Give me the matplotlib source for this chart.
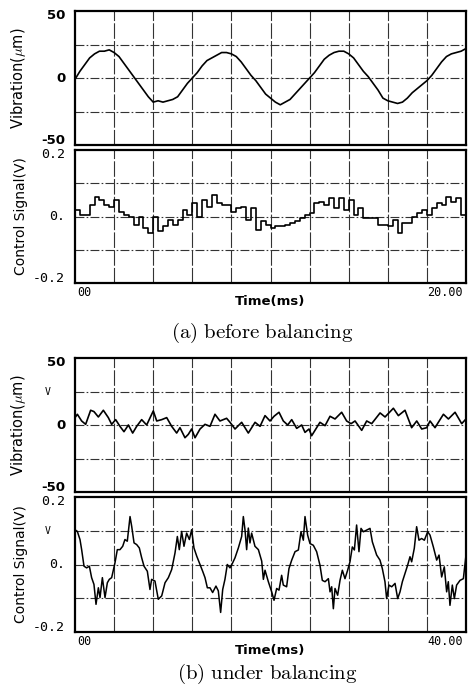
import numpy as np
import matplotlib
matplotlib.use("Agg")
import matplotlib.pyplot as plt

plt.rcParams['mathtext.fontset'] = 'cm'

# ---- (a) before balancing, 0..20 ms, sampled every 0.25 ms ----
t_a = np.arange(81) * 0.25
vib_a = [-1, 5, 10, 15, 18, 20, 20, 21, 19, 16, 11, 6, 1, -4, -9, -14, -18, -17, -18, -17,
         -16, -14, -9, -4, 0, 4, 9, 13, 15, 17, 19, 19, 18, 16, 12, 7, 2, -2, -7, -12,
         -15, -18, -20, -18, -16, -12, -8, -4, 0, 4, 9, 14, 17, 19, 20, 20, 18, 15, 10, 5,
         1, -4, -9, -15, -17, -18, -19, -18, -15, -11, -8, -5, -2, 2, 7, 12, 16, 18, 19, 20, 22]
ctl_a = [0.02, 0.005, 0.005, 0.035, 0.06, 0.05, 0.035, 0.03, 0.05, 0.015, 0.005, 0.0, -0.025,
         0.0, -0.035, -0.05, 0.0, -0.045, -0.03, -0.01, -0.025, -0.01, 0.02, 0.005, 0.04, 0.0,
         0.05, 0.03, 0.065, 0.04, 0.035, 0.035, 0.015, 0.025, 0.03, -0.01, 0.025, -0.04, -0.015,
         -0.025, -0.035, -0.03, -0.03, -0.025, -0.02, -0.015, -0.005, 0.005, 0.01, 0.04, 0.045,
         0.035, 0.055, 0.025, 0.055, 0.02, 0.05, 0.005, 0.025, -0.005, -0.005, -0.005, -0.025,
         -0.025, -0.03, -0.01, -0.05, -0.02, -0.02, 0.0, 0.01, 0.02, 0.005, 0.025, 0.04, 0.035,
         0.06, 0.045, 0.055, 0.005, 0.07]

# ---- (b) under balancing, 0..40 ms ----
t_vib_b = [0, 0.24, 0.68, 1.09, 1.60, 1.94, 2.39, 2.90, 3.41, 3.75, 4.16, 4.60, 5.01, 5.46,
           5.90, 6.31, 6.82, 7.33, 8.01, 8.36, 8.87, 9.38, 9.89, 10.40, 10.74, 11.25, 11.59,
           11.93, 12.28, 12.79, 13.30, 13.81, 14.32, 14.83, 15.51, 15.86, 16.37, 17.05, 17.73,
           18.42, 18.93, 19.44, 19.95, 20.36, 20.87, 21.31, 21.76, 22.17, 22.68, 23.19, 23.53,
           23.94, 24.21, 24.72, 25.06, 25.58, 26.09, 26.60, 27.28, 27.79, 28.24, 28.65, 29.33,
           29.84, 30.35, 31.21, 31.72, 32.57, 33.08, 33.76, 34.44, 34.96, 35.47, 35.98, 36.32,
           36.83, 37.17, 37.69, 38.20, 38.88, 39.56, 40.0]
vib_b = [5.5, 8, 3, 0.5, 11, 10, 6, 11, 5.5, 0.5, 4, -1, -5, 0, -6, -1, 4, 0, 10.5, 3, 4,
         5.5, -1, -6, -2, -9.5, -7, -3, -9.5, -3, 0.5, -1, 8, 3, 5, 2, -3, 2, -6, 2, -1, 7,
         3, 6.5, 9.5, 3, 0, 4, -2.5, 0, -5.5, -3, -8, -2, 2, -0.5, 6.5, 4.5, 9.5, 3, 1, 3,
         -4, 3, 1, 9, 6, 12.5, 7, 11, -2, 3, -3, -2, 3, -2, 2, 8, 4.5, 9.5, 1, 4.5]

t_ctl_b = [0, 0.24, 0.51, 0.68, 0.92, 1.19, 1.47, 1.70, 1.94, 2.15, 2.39, 2.56, 2.80, 3.07,
           3.31, 3.51, 3.75, 4.09, 4.33, 4.60, 4.88, 5.11, 5.35, 5.63, 5.80, 6.04, 6.31, 6.58,
           6.82, 7.06, 7.40, 7.67, 7.84, 8.18, 8.52, 8.87, 9.21, 9.55, 9.89, 10.23, 10.47,
           10.67, 10.91, 11.15, 11.42, 11.70, 11.93, 12.17, 12.45, 12.79, 13.06, 13.30, 13.54,
           13.81, 14.08, 14.42, 14.66, 14.90, 15.11, 15.34, 15.58, 15.86, 16.13, 16.37, 16.71,
           17.05, 17.22, 17.39, 17.56, 17.73, 17.90, 18.07, 18.41, 18.76, 19.10, 19.27, 19.44,
           19.78, 20.12, 20.36, 20.63, 20.87, 21.14, 21.31, 21.65, 21.89, 22.17, 22.51, 22.85,
           23.12, 23.36, 23.53, 23.80, 24.04, 24.38, 24.72, 25.06, 25.30, 25.58, 25.92, 26.09,
           26.26, 26.43, 26.60, 26.87, 27.11, 27.35, 27.62, 27.89, 28.13, 28.37, 28.58, 28.81,
           29.05, 29.26, 29.50, 29.84, 30.18, 30.42, 30.86, 31.20, 31.44, 31.71, 31.88, 32.12,
           32.40, 32.74, 33.01, 33.25, 33.49, 33.76, 34.03, 34.27, 34.44, 34.71, 34.95, 35.19,
           35.46, 35.74, 36.08, 36.32, 36.66, 37.00, 37.24, 37.51, 37.78, 38.02, 38.19, 38.36,
           38.60, 38.81, 39.04, 39.39, 39.73, 40.0]
ctl_b = [0.103, 0.098, 0.074, 0.044, -0.005, -0.01, -0.005, -0.039, -0.059, -0.118, -0.069,
         -0.098, -0.039, -0.098, -0.054, -0.044, -0.039, 0.005, 0.044, 0.044, 0.054, 0.074,
         0.069, 0.142, 0.113, 0.064, 0.059, 0.049, 0.020, -0.005, -0.020, -0.074, -0.044,
         -0.049, -0.103, -0.093, -0.054, -0.039, -0.015, 0.034, 0.083, 0.044, 0.098, 0.054,
         0.093, 0.074, 0.103, 0.049, 0.025, 0.0, -0.020, -0.039, -0.069, -0.069, -0.083,
         -0.064, -0.078, -0.142, -0.074, -0.044, 0.0, -0.010, 0.005, 0.020, 0.049, 0.083,
         0.142, 0.103, 0.044, 0.108, 0.064, 0.093, 0.054, 0.044, 0.010, -0.044, -0.017,
         -0.051, -0.081, -0.106, -0.071, -0.076, -0.032, -0.061, -0.066, -0.012, 0.013, 0.038,
         0.043, 0.097, 0.072, 0.142, 0.087, 0.062, 0.057, 0.038, -0.002, -0.047, -0.051,
         -0.042, -0.081, -0.066, -0.131, -0.071, -0.091, -0.047, -0.017, -0.042, -0.017,
         0.008, 0.052, 0.043, 0.117, 0.038, 0.107, 0.097, 0.102, 0.107, 0.067, 0.028, 0.013,
         -0.012, -0.051, -0.101, -0.061, -0.066, -0.056, -0.101, -0.081, -0.051, -0.027,
         -0.002, 0.023, 0.008, 0.048, 0.112, 0.072, 0.077, 0.072, 0.097, 0.087, 0.052, 0.013,
         0.028, -0.037, -0.007, -0.081, -0.051, -0.121, -0.061, -0.101, -0.061, -0.047,
         -0.042, 0.028]

vib_ticks = ['50', '0', '-50']
ctl_ticks = ['0.2', '0.', '-0.2']


def setup_axes(ax, tmax, ymax):
    ax.set_xlim(0, tmax)
    ax.set_ylim(-ymax, ymax)
    ax.set_xticks(np.linspace(0, tmax, 11)[1:-1])
    ax.set_yticks([-ymax / 2, 0, ymax / 2])
    ax.tick_params(length=0, labelbottom=False, labelleft=False)
    ax.grid(axis='x', color='#333333', lw=0.8, ls=(0, (14, 2)))
    ax.grid(axis='y', color='#333333', lw=0.8, ls=(0, (8, 2, 1.5, 2)))
    for s in ax.spines.values():
        s.set_linewidth(1.6)


def label_y(ax, labels, ymax, mono):
    tr = ax.get_yaxis_transform()
    fam = 'DejaVu Sans Mono' if mono else 'DejaVu Sans'
    for lab, y in zip(labels, [ymax * 0.93, 0, -ymax * 0.93]):
        ax.text(-0.025, y, lab, transform=tr, ha='right', va='center',
                fontsize=9.5, family=fam, fontweight='bold' if not mono else 'normal')


def draw_panel(ax_v, ax_c, t_v, v, t_c, c, tmax, steps, end_label, vmark):
    setup_axes(ax_v, tmax, 50)
    setup_axes(ax_c, tmax, 0.2)
    ax_v.plot(t_v, v, color='black', lw=1.2)
    if steps:
        ax_c.plot(t_c, c, color='black', lw=1.2, drawstyle='steps-post')
    else:
        ax_c.plot(t_c, c, color='black', lw=1.1)
    label_y(ax_v, vib_ticks, 50, False)
    label_y(ax_c, ctl_ticks, 0.2, True)
    ax_v.set_ylabel(r'Vibration($\mu$m)', fontsize=10.5)
    ax_c.set_ylabel('Control Signal(V)', fontsize=10)
    ax_v.yaxis.set_label_coords(-0.12, 0.5)
    ax_c.yaxis.set_label_coords(-0.12, 0.5)
    if vmark:
        ax_v.text(-0.07, 25, 'V', transform=ax_v.get_yaxis_transform(),
                  fontsize=7, ha='center', va='center', family='DejaVu Sans Mono')
        ax_c.text(-0.07, 0.1, 'V', transform=ax_c.get_yaxis_transform(),
                  fontsize=7, ha='center', va='center', family='DejaVu Sans Mono')
    ax_c.text(0.005, -0.025, '00', transform=ax_c.transAxes, ha='left', va='top',
              fontsize=8.5, family='DejaVu Sans Mono')
    ax_c.text(0.9, -0.025, end_label, transform=ax_c.transAxes, ha='left', va='top',
              fontsize=8.5, family='DejaVu Sans Mono')
    ax_c.text(0.5, -0.09, 'Time(ms)', transform=ax_c.transAxes, ha='center', va='top',
              fontsize=9.5, fontweight='bold')


fig = plt.figure(figsize=(4.69, 6.92), dpi=100)
W, H = 469.0, 692.0


def add_ax(top, bottom):
    return fig.add_axes([75 / W, 1 - bottom / H, 391 / W, (bottom - top) / H])


ax1 = add_ax(11, 145)
ax2 = add_ax(150, 283)
ax3 = add_ax(358, 492)
ax4 = add_ax(497, 632)

draw_panel(ax1, ax2, t_a, vib_a, t_a, ctl_a, 20, True, '20.00', False)
draw_panel(ax3, ax4, t_vib_b, vib_b, t_ctl_b, ctl_b, 40, False, '40.00', True)

fig.text(262 / W, 1 - 333 / H, r'$\mathrm{(a)\ before\ balancing}$', ha='center',
         va='center', fontsize=15)
fig.text(267 / W, 1 - 674 / H, r'$\mathrm{(b)\ under\ balancing}$', ha='center',
         va='center', fontsize=15)

fig.savefig('out.png', dpi=100)
